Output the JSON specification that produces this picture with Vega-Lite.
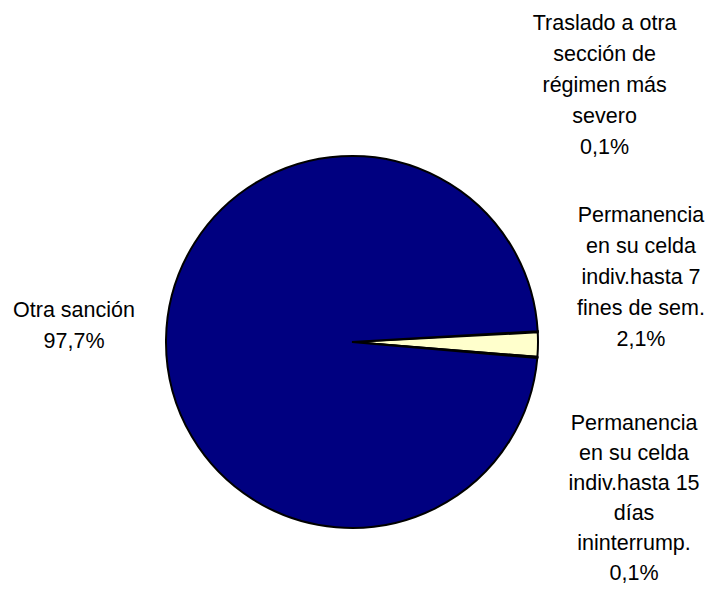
{
  "$schema": "https://vega.github.io/schema/vega-lite/v6.json",
  "width": 704,
  "height": 496,
  "autosize": {"type": "none"},
  "padding": {"top": 94, "left": 0, "right": 11, "bottom": 0},
  "background": "white",
  "config": {"view": {"stroke": null}},
  "data": {
    "values": [
      {"categoria": "Traslado a otra sección de régimen más severo", "orden": 1, "porcentaje": 0.1, "etiqueta": "Traslado a otra\nsección de\nrégimen más\nsevero\n0,1%"},
      {"categoria": "Permanencia en su celda indiv.hasta 7 fines de sem.", "orden": 2, "porcentaje": 2.1, "etiqueta": "Permanencia\nen su celda\nindiv.hasta 7\nfines de sem.\n2,1%"},
      {"categoria": "Permanencia en su celda indiv.hasta 15 días ininterrump.", "orden": 3, "porcentaje": 0.1, "etiqueta": "Permanencia\nen su celda\nindiv.hasta 15\ndías\nininterrump.\n0,1%"},
      {"categoria": "Otra sanción", "orden": 4, "porcentaje": 97.7, "etiqueta": "Otra sanción\n97,7%"}
    ]
  },
  "encoding": {
    "theta": {"field": "porcentaje", "type": "quantitative", "stack": true, "scale": {"range": [1.5125, 7.7957]}},
    "order": {"field": "orden", "type": "quantitative"}
  },
  "layer": [
    {
      "mark": {"type": "arc", "outerRadius": 186, "stroke": "black", "strokeWidth": 2},
      "encoding": {
        "color": {
          "field": "categoria",
          "type": "nominal",
          "legend": null,
          "scale": {
            "domain": ["Traslado a otra sección de régimen más severo", "Permanencia en su celda indiv.hasta 7 fines de sem.", "Permanencia en su celda indiv.hasta 15 días ininterrump.", "Otra sanción"],
            "range": ["#9999FF", "#FFFFCC", "#993366", "#000080"]
          }
        }
      }
    },
    {
      "mark": {"type": "text", "radius": 278, "dy": -27, "align": "center", "baseline": "middle", "lineBreak": "\n", "lineHeight": 31, "font": "Liberation Sans", "fontSize": 21.5, "color": "black"},
      "encoding": {"text": {"condition": {"test": "datum.orden === 4", "field": "etiqueta", "type": "nominal"}, "value": ""}}
    },
    {
      "mark": {"type": "text", "radius": 253, "dy": -304, "align": "center", "baseline": "middle", "lineBreak": "\n", "lineHeight": 31, "font": "Liberation Sans", "fontSize": 21.5, "color": "black"},
      "encoding": {"text": {"condition": {"test": "datum.orden === 1", "field": "etiqueta", "type": "nominal"}, "value": ""}}
    },
    {
      "mark": {"type": "text", "radius": 289, "dy": -130, "align": "center", "baseline": "middle", "lineBreak": "\n", "lineHeight": 31, "font": "Liberation Sans", "fontSize": 21.5, "color": "black"},
      "encoding": {"text": {"condition": {"test": "datum.orden === 2", "field": "etiqueta", "type": "nominal"}, "value": ""}}
    },
    {
      "mark": {"type": "text", "radius": 283, "dy": 59, "align": "center", "baseline": "middle", "lineBreak": "\n", "lineHeight": 30, "font": "Liberation Sans", "fontSize": 21.5, "color": "black"},
      "encoding": {"text": {"condition": {"test": "datum.orden === 3", "field": "etiqueta", "type": "nominal"}, "value": ""}}
    }
  ]
}
